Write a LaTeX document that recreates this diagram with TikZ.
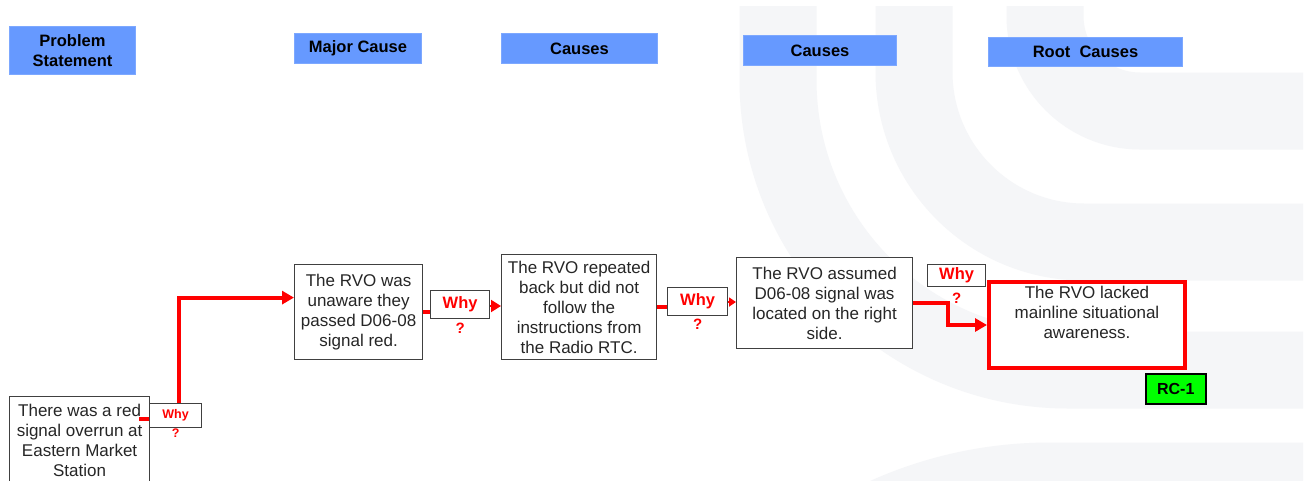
\documentclass[tikz,border=0pt]{standalone}
\usepackage{fontspec}
\setmainfont{Liberation Sans}
\usetikzlibrary{arrows.meta}
\definecolor{hdrblue}{HTML}{6699FF}
\definecolor{wmgrey}{HTML}{F5F6F8}
\definecolor{boxedge}{HTML}{404040}
\definecolor{whyred}{HTML}{FF0000}
\definecolor{rcgreen}{HTML}{00FF00}

\begin{document}
\begin{tikzpicture}[x=1pt, y=-1pt,
    header/.style={fill=hdrblue, draw=hdrblue!85!white, line width=1pt, align=center, anchor=north west, inner sep=0pt, font=\fontsize{16.5}{20}\selectfont\bfseries},
    causebox/.style={draw=boxedge, line width=1.2pt, fill=white, text=black!85, align=center, anchor=north west, inner sep=0pt, font=\fontsize{17}{20}\selectfont},
    whybox/.style={draw=boxedge, line width=1.2pt, fill=white, text=whyred, anchor=north west, inner sep=0pt, font=\fontsize{16.5}{18}\selectfont\bfseries},
    whymark/.style={text=whyred, inner sep=0pt, anchor=north, font=\fontsize{15}{16}\selectfont\bfseries},
    redline/.style={whyred, line width=4pt},
    redarrow/.style={redline, -{Triangle[length=12pt, width=13pt]}},
    smallarrow/.style={whyred, line width=2pt, -{Triangle[length=#1, width=#1+2pt]}},
    band/.style={wmgrey, line width=77pt, rounded corners=#1},
  ]
  \clip (0,0) rectangle (1309,480);
  \fill[white] (0,0) rectangle (1309,480);

  % Watermark
  \draw[band=95pt] (1045,6) -- (1045,111) -- (1303,111);
  \draw[band=170pt] (914,6) -- (914,242) -- (1303,242);
  \draw[band=290pt] (778,6) -- (778,370) -- (1303,370);
  \draw[band=400pt] (650,960) -- (650,481) -- (1303,481);

  % Headers
  \node[header, minimum width=126, minimum height=48] (hPS) at (9,26) {Problem\\Statement};
  \node[header, minimum width=127, minimum height=30] (hMC) at (294,33) {Major Cause};
  \node[header, minimum width=156, minimum height=30] (hCa) at (501,33) {Causes};
  \node[header, minimum width=153, minimum height=30] (hCb) at (743,35) {Causes};
  \node[header, minimum width=194, minimum height=29] (hRC) at (988,37) {Root~~Causes};

  % Cause boxes
  \node[causebox, minimum width=140, minimum height=88] (ps) at (9,396) {There was a red\\signal overrun at\\Eastern Market\\Station};
  \node[causebox, minimum width=128, minimum height=95] (mc) at (294,264) {The RVO was\\unaware they\\passed D06-08\\signal red.};
  \node[causebox, minimum width=155, minimum height=105] (ca) at (501,254) {The RVO repeated\\back but did not\\follow the\\instructions from\\the Radio RTC.};
  \node[causebox, minimum width=176, minimum height=91] (cb) at (736,257) {The RVO assumed\\D06-08 signal was\\located on the right\\side.};
  \node[causebox, draw=whyred, line width=4pt, minimum width=196, minimum height=86] (root) at (987,280) {};
  \node[causebox, draw=none, fill=none, anchor=north] (rootTxt) at ([yshift=-6pt]root.north) {The RVO lacked\\mainline situational\\awareness.};
  \node[causebox, fill=rcgreen, draw=black, line width=1.5pt, text=black, minimum width=60, minimum height=30, font=\fontsize{16}{18}\selectfont\bfseries] (rc1) at (1145,373) {RC-1};

  % Connectors
  \draw[redline] ([xshift=-11pt]ps.east |- 0,419) -- (165,419);
  \draw[redarrow] (179,405) |- ([yshift=14.5pt]mc.west);
  \draw[redline] (mc.east) -- (430,0 |- mc.east);
  \draw[smallarrow=10pt] (489,306) -- (501,306);
  \draw[redline] (ca.east) -- (667,0 |- ca.east);
  \draw[smallarrow=7pt] (727,302) -- (736,302);
  \draw[redarrow] (cb.east) -- ++(35,0) |- (root.west);

  % Why boxes
  \node[whybox, minimum width=52, minimum height=24, font=\fontsize{12.5}{14}\selectfont\bfseries] (w1) at (149,403) {Why};
  \node[whymark, font=\fontsize{12.5}{14}\selectfont\bfseries] (q1) at ([yshift=-0.5pt]w1.south) {?};
  \node[whybox, minimum width=59, minimum height=28] (w2) at (430,290) {Why};
  \node[whymark] (q2) at ([yshift=-4pt]w2.south) {?};
  \node[whybox, minimum width=60, minimum height=28] (w3) at (667,287) {Why};
  \node[whymark] (q3) at ([yshift=-3pt]w3.south) {?};
  \node[whybox, minimum width=58, minimum height=22] (w4) at (927,264) {Why};
  \node[whymark] (q4) at ([yshift=-6pt]w4.south) {?};
\end{tikzpicture}
\end{document}
